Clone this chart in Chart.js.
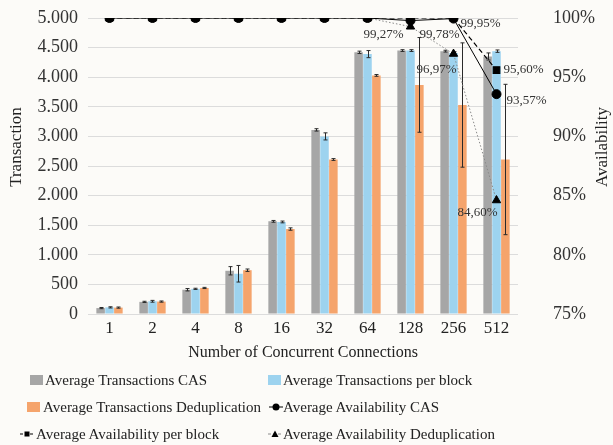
<!DOCTYPE html>
<html>
<head>
<meta charset="utf-8">
<script src="https://cdn.jsdelivr.net/npm/chart.js@4/dist/chart.umd.min.js"></script>
<style>
  html, body { margin: 0; padding: 0; background: #fcfbf8; }
  #wrap { position: relative; width: 613px; height: 445px; overflow: hidden; }
  #c { position: absolute; left: 0; top: 0; }
  .lg { position: absolute; font-family: "Times New Roman", "Liberation Serif", Tinos, "Nimbus Roman", "DejaVu Serif", serif; font-size: 15px; color: #222; white-space: nowrap; line-height: 18px; }
  .mk { position: absolute; }
</style>
</head>
<body>
<div id="wrap">
  <canvas id="c" width="613" height="445"></canvas>
  <div id="legend"></div>
</div>
<script>
// ---------- data ----------
const categories = ['1', '2', '4', '8', '16', '32', '64', '128', '256', '512'];
const seriesNames = [
  'Average Transactions CAS',
  'Average Transactions per block',
  'Average Transactions Deduplication',
  'Average Availability CAS',
  'Average Availability per block',
  'Average Availability Deduplication'
];
const txCAS   = [100, 205, 410, 730, 1565, 3110, 4420, 4450, 4440, 4350];
const txBlock = [112, 215, 425, 680, 1555, 3000, 4390, 4450, 4410, 4440];
const txDedup = [108, 210, 440, 740, 1435, 2610, 4030, 3870, 3530, 2610];
const errCAS   = [10, 10, 20, 70, 15, 20, 20, 15, 15, 60];
const errBlock = [10, 15, 10, 140, 15, 60, 60, 15, 20, 20];
const errDedup = [10, 10, 10, 20, 20, 15, 15, 800, 1050, 1270];
const avCAS   = [100, 100, 100, 100, 100, 100, 100, 99.78, 99.95, 93.57];
const avBlock = [100, 100, 100, 100, 100, 100, 100, 100, 100, 95.60];
const avDedup = [100, 100, 100, 100, 100, 100, 100, 99.27, 96.97, 84.60];
const leftTicks  = { min: 0, max: 5000, step: 500 };
const rightTicks = { min: 75, max: 100, step: 5 };
const axisTitles = { left: 'Transaction', right: 'Availability', x: 'Number of Concurrent Connections' };

// ---------- styles ----------
const FONT = '"Times New Roman", "Liberation Serif", Tinos, "Nimbus Roman", "DejaVu Serif", serif';
const colors = ['#a6a6a6', '#9dd3ef', '#f5a46c', '#000000', '#000000', '#000000'];
const labelOffsets = {
  3: { 7: [29, 14], 8: [27, 5], 9: [30, 6] },
  4: { 9: [27, -1] },
  5: { 7: [-27, 8], 8: [-17, 16], 9: [-19, 12] }
};
const errorArrays = { 0: errCAS, 1: errBlock, 2: errDedup };

const errorBarPlugin = {
  id: 'errorBars',
  afterDatasetDraw(chart, args) {
    const errs = errorArrays[args.index];
    if (!errs) return;
    const meta = args.meta;
    const y = chart.scales.y;
    const ctx = chart.ctx;
    ctx.save();
    ctx.strokeStyle = '#2a2a2a';
    ctx.lineWidth = 1;
    meta.data.forEach((bar, i) => {
      const v = chart.data.datasets[args.index].data[i];
      const e = errs[i];
      const x = Math.round(bar.x) + 0.5;
      const yt = y.getPixelForValue(v + e);
      const yb = y.getPixelForValue(v - e);
      ctx.beginPath();
      ctx.moveTo(x, yt); ctx.lineTo(x, yb);
      ctx.moveTo(x - 2, yt); ctx.lineTo(x + 2, yt);
      ctx.moveTo(x - 2, yb); ctx.lineTo(x + 2, yb);
      ctx.stroke();
    });
    ctx.restore();
  }
};

const pointLabelPlugin = {
  id: 'pointLabels',
  afterDatasetsDraw(chart) {
    const ctx = chart.ctx;
    ctx.save();
    ctx.font = '13px ' + FONT;
    ctx.fillStyle = '#333';
    ctx.textAlign = 'center';
    ctx.textBaseline = 'middle';
    Object.keys(labelOffsets).forEach(di => {
      const meta = chart.getDatasetMeta(+di);
      const data = chart.data.datasets[+di].data;
      Object.keys(labelOffsets[di]).forEach(pi => {
        const pt = meta.data[+pi];
        const off = labelOffsets[di][pi];
        const txt = data[+pi].toFixed(2).replace('.', ',') + '%';
        ctx.fillText(txt, pt.x + off[0], pt.y + off[1]);
      });
    });
    ctx.restore();
  }
};

const sideTitlesPlugin = {
  id: 'sideTitles',
  afterDraw(chart) {
    const ctx = chart.ctx;
    ctx.save();
    ctx.font = '17px ' + FONT;
    ctx.fillStyle = '#222';
    ctx.textAlign = 'center';
    ctx.textBaseline = 'middle';
    [[17, 147, axisTitles.left], [603, 147, axisTitles.right]].forEach(([x, y, t]) => {
      ctx.save();
      ctx.translate(x, y);
      ctx.rotate(-Math.PI / 2);
      ctx.fillText(t, 0, 0);
      ctx.restore();
    });
    ctx.restore();
  }
};

const barDs = (i, data) => ({
  type: 'bar', label: seriesNames[i], data, backgroundColor: colors[i],
  yAxisID: 'y', order: 10 + i, categoryPercentage: 0.62, barPercentage: 0.96
});

const chart = new Chart(document.getElementById('c'), {
  data: {
    labels: categories,
    datasets: [
      barDs(0, txCAS),
      barDs(1, txBlock),
      barDs(2, txDedup),
      { type: 'line', label: seriesNames[3], data: avCAS, yAxisID: 'y1', order: 2,
        borderColor: '#000', borderWidth: 1, pointStyle: 'circle', pointRadius: 4.5,
        pointBackgroundColor: '#000', pointBorderColor: '#000', tension: 0 },
      { type: 'line', label: seriesNames[4], data: avBlock, yAxisID: 'y1', order: 1,
        borderColor: '#000', borderWidth: 1.2, borderDash: [5, 3], pointStyle: 'rect', pointRadius: 4.6,
        pointBackgroundColor: '#000', pointBorderColor: '#000', tension: 0 },
      { type: 'line', label: seriesNames[5], data: avDedup, yAxisID: 'y1', order: 3,
        borderColor: '#8a8a8a', borderWidth: 1, borderDash: [1.5, 2], pointStyle: 'triangle', pointRadius: 4.8,
        pointBackgroundColor: '#000', pointBorderColor: '#000', tension: 0 }
    ]
  },
  options: {
    responsive: false,
    animation: false,
    devicePixelRatio: 1,
    layout: { padding: { top: 18, bottom: 79, left: 0, right: 0 } },
    plugins: { legend: { display: false }, tooltip: { enabled: false } },
    scales: {
      x: {
        grid: { display: false, drawTicks: false },
        border: { display: false },
        ticks: { font: { family: FONT, size: 17 }, color: '#222', padding: 4, maxRotation: 0 },
        title: { display: true, text: axisTitles.x, font: { family: FONT, size: 16 }, color: '#222', padding: { top: 4, bottom: 4 } },
        afterFit: s => { s.height = 52; }
      },
      y: {
        position: 'left',
        min: leftTicks.min, max: leftTicks.max,
        grid: { color: '#dcdcdc', drawTicks: false },
        border: { display: false },
        ticks: { stepSize: leftTicks.step, font: { family: FONT, size: 18 }, color: '#333', padding: 10,
                 callback: v => v.toLocaleString('de-DE') },
        afterFit: s => { s.width = 88; s.paddingTop = 10; s.paddingBottom = 10; }
      },
      y1: {
        position: 'right',
        min: rightTicks.min, max: rightTicks.max,
        grid: { drawOnChartArea: false, drawTicks: false },
        border: { display: false },
        ticks: { stepSize: rightTicks.step, font: { family: FONT, size: 18 }, color: '#333', padding: 35,
                 callback: v => v + '%' },
        afterFit: s => { s.width = 95; s.paddingTop = 10; s.paddingBottom = 10; }
      }
    }
  },
  plugins: [errorBarPlugin, pointLabelPlugin, sideTitlesPlugin]
});

// ---------- HTML legend ----------
const legendPos = [
  { mx: 30, tx: 45, row: 0 },
  { mx: 268, tx: 283, row: 0 },
  { mx: 27, tx: 43, row: 1 },
  { mx: 269, tx: 283, row: 1 },
  { mx: 20, tx: 36, row: 2 },
  { mx: 268, tx: 283, row: 2 }
];
const rowY = [380, 407, 434];
const legend = document.getElementById('legend');
chart.data.datasets.forEach((ds, i) => {
  const p = legendPos[i];
  const cy = rowY[p.row];
  let mk;
  if (ds.type === 'bar') {
    mk = document.createElement('div');
    mk.className = 'mk';
    mk.style.cssText = `left:${p.mx}px;top:${cy - 5}px;width:13px;height:10px;background:${ds.backgroundColor}`;
  } else {
    const ns = 'http://www.w3.org/2000/svg';
    mk = document.createElementNS(ns, 'svg');
    mk.setAttribute('width', 14); mk.setAttribute('height', 10);
    mk.setAttribute('class', 'mk');
    mk.style.left = p.mx + 'px'; mk.style.top = (cy - 5) + 'px';
    const ln = document.createElementNS(ns, 'line');
    ln.setAttribute('x1', 0); ln.setAttribute('x2', 14); ln.setAttribute('y1', 5); ln.setAttribute('y2', 5);
    ln.setAttribute('stroke', ds.borderColor); ln.setAttribute('stroke-width', 1);
    if (ds.borderDash) ln.setAttribute('stroke-dasharray', '3 2');
    mk.appendChild(ln);
    let sh;
    if (ds.pointStyle === 'circle') {
      sh = document.createElementNS(ns, 'circle');
      sh.setAttribute('cx', 7); sh.setAttribute('cy', 5); sh.setAttribute('r', 3.5);
    } else if (ds.pointStyle === 'rect') {
      sh = document.createElementNS(ns, 'rect');
      sh.setAttribute('x', 4.5); sh.setAttribute('y', 2.5); sh.setAttribute('width', 5); sh.setAttribute('height', 5);
    } else {
      sh = document.createElementNS(ns, 'polygon');
      sh.setAttribute('points', '7,1.5 10.5,8 3.5,8');
    }
    sh.setAttribute('fill', '#000');
    mk.appendChild(sh);
  }
  legend.appendChild(mk);
  const t = document.createElement('div');
  t.className = 'lg';
  t.style.left = p.tx + 'px';
  t.style.top = (cy - 9) + 'px';
  t.textContent = ds.label;
  legend.appendChild(t);
});
</script>
</body>
</html>
